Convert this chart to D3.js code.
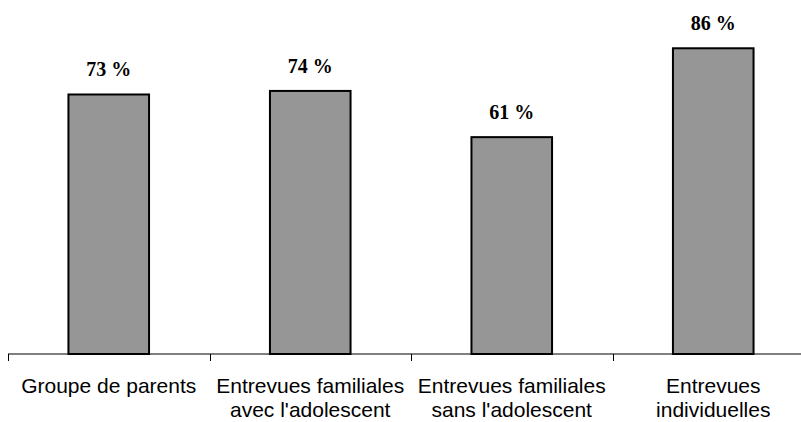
<!DOCTYPE html>
<html>
<head>
<meta charset="utf-8">
<script src="https://cdn.jsdelivr.net/npm/d3@7"></script>
<style>
  html, body { margin: 0; padding: 0; background: #fff; }
  svg { display: block; }
</style>
</head>
<body>
<svg id="chart" width="801" height="422"></svg>
<script>
// Categories (each split over two lines) and the share for each one, in %
const categories = [
  ["Groupe de parents"],
  ["Entrevues familiales", "avec l'adolescent"],
  ["Entrevues familiales", "sans l'adolescent"],
  ["Entrevues", "individuelles"]
];
const values = [73, 74, 61, 86];
const valueLabels = ["73 %", "74 %", "61 %", "86 %"];

const svg = d3.select("#chart");
const axisY = 354;

const x = d3.scaleBand()
  .domain(d3.range(categories.length))
  .range([8, 814])
  .paddingInner(0.6)
  .paddingOuter(0.3);

// band step including padding, used for tick positions between categories
const step = x.step();

const y = d3.scaleLinear().domain([0, 100]).range([axisY, -1.5]);

// bars
svg.append("g").selectAll("rect")
  .data(values)
  .join("rect")
  .attr("x", (d, i) => x(i))
  .attr("y", d => y(d))
  .attr("width", x.bandwidth())
  .attr("height", d => axisY - y(d))
  .attr("fill", "#969696")
  .attr("stroke", "#000")
  .attr("stroke-width", 2);

// value labels above the bars
svg.append("g").selectAll("text")
  .data(values)
  .join("text")
  .attr("x", (d, i) => x(i) + x.bandwidth() / 2)
  .attr("y", d => y(d) - 18)
  .attr("text-anchor", "middle")
  .attr("font-family", "'Liberation Serif', 'Times New Roman', serif")
  .attr("font-weight", "bold")
  .attr("font-size", 20)
  .attr("fill", "#000")
  .text((d, i) => valueLabels[i]);

// category axis: baseline with ticks at band boundaries
const axisG = svg.append("g");
axisG.append("line")
  .attr("x1", 8).attr("x2", 814)
  .attr("y1", axisY).attr("y2", axisY)
  .attr("stroke", "#000").attr("stroke-width", 1);

axisG.selectAll("line.tick")
  .data(d3.range(categories.length + 1))
  .join("line")
  .attr("class", "tick")
  .attr("x1", i => Math.round(8 + i * step) + 0.5)
  .attr("x2", i => Math.round(8 + i * step) + 0.5)
  .attr("y1", axisY)
  .attr("y2", axisY + 7)
  .attr("stroke", "#000").attr("stroke-width", 1);

const catText = axisG.selectAll("text.cat")
  .data(categories)
  .join("text")
  .attr("class", "cat")
  .attr("x", (d, i) => x(i) + x.bandwidth() / 2)
  .attr("y", 393)
  .attr("text-anchor", "middle")
  .attr("font-family", "'Liberation Sans', Arial, sans-serif")
  .attr("font-size", 21)
  .attr("fill", "#000");

catText.selectAll("tspan")
  .data(d => d)
  .join("tspan")
  .attr("x", function () { return this.parentNode.getAttribute("x"); })
  .attr("dy", (d, i) => i === 0 ? 0 : 24)
  .text(d => d);
</script>
</body>
</html>
